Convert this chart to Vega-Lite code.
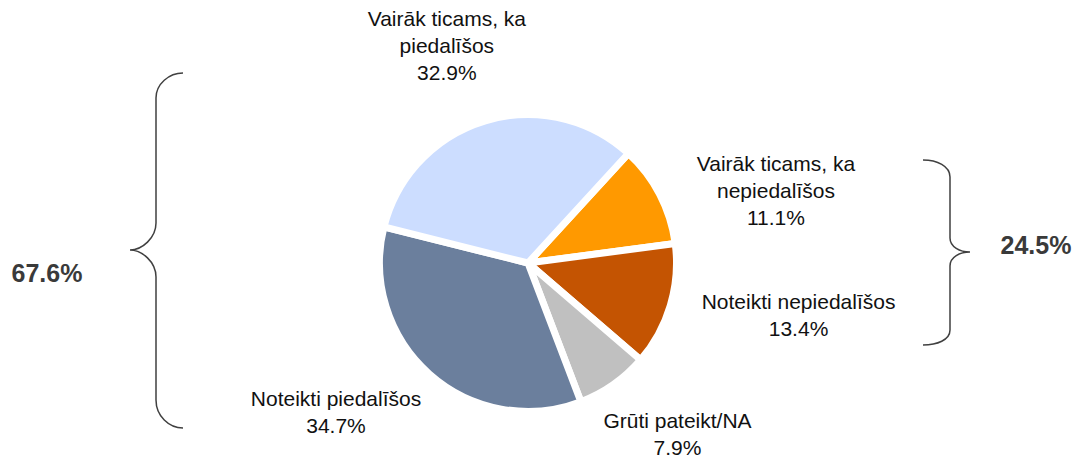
{
  "$schema": "https://vega.github.io/schema/vega-lite/v6.json",
  "width": 1056,
  "height": 394,
  "autosize": {"type": "none"},
  "padding": {"left": 0, "top": 66, "right": 25, "bottom": 0},
  "background": "white",
  "config": {"view": {"stroke": null}, "font": "Liberation Sans"},
  "datasets": {
    "slices": [
      {"ord": 1, "category": "Vairāk ticams, ka nepiedalīšos", "label": "Vairāk ticams, ka\nnepiedalīšos\n11.1%", "value": 11.1},
      {"ord": 2, "category": "Noteikti nepiedalīšos", "label": "Noteikti nepiedalīšos\n13.4%", "value": 13.4},
      {"ord": 3, "category": "Grūti pateikt/NA", "label": "Grūti pateikt/NA\n7.9%", "value": 7.9},
      {"ord": 4, "category": "Noteikti piedalīšos", "label": "Noteikti piedalīšos\n34.7%", "value": 34.7},
      {"ord": 5, "category": "Vairāk ticams, ka piedalīšos", "label": "Vairāk ticams, ka\npiedalīšos\n32.9%", "value": 32.9}
    ],
    "totals": [
      {"side": "left", "total": "67.6%"},
      {"side": "right", "total": "24.5%"}
    ]
  },
  "layer": [
    {
      "data": {"name": "slices"},
      "transform": [
        {"stack": "value", "groupby": [], "sort": [{"field": "ord", "order": "ascending"}], "as": ["v0", "v1"]}
      ],
      "layer": [
        {
          "mark": {"type": "arc", "outerRadius": 148.5, "stroke": "white", "strokeWidth": 7},
          "encoding": {
            "theta": {"field": "v0", "type": "quantitative", "scale": {"domain": [0, 100], "range": [0.74176, 7.02495]}},
            "theta2": {"field": "v1"},
            "color": {
              "field": "category",
              "type": "nominal",
              "scale": {
                "domain": ["Vairāk ticams, ka nepiedalīšos", "Noteikti nepiedalīšos", "Grūti pateikt/NA", "Noteikti piedalīšos", "Vairāk ticams, ka piedalīšos"],
                "range": ["#FF9900", "#C45402", "#C0C0C0", "#6B7F9D", "#CCDDFF"]
              },
              "legend": null
            }
          }
        },
        {
          "transform": [{"filter": "datum.ord == 1"}],
          "mark": {"type": "text", "radius": 258.2, "thetaOffset": 0.5463, "dy": -26, "lineBreak": "\n", "fontSize": 21, "lineHeight": 27, "align": "center", "baseline": "middle", "color": "#111111"},
          "encoding": {"theta": {"field": "v0", "type": "quantitative"}, "text": {"field": "label", "type": "nominal"}}
        },
        {
          "transform": [{"filter": "datum.ord == 2"}],
          "mark": {"type": "text", "radius": 275.5, "thetaOffset": 0.3218, "dy": -12, "lineBreak": "\n", "fontSize": 21, "lineHeight": 27, "align": "center", "baseline": "middle", "color": "#111111"},
          "encoding": {"theta": {"field": "v0", "type": "quantitative"}, "text": {"field": "label", "type": "nominal"}}
        },
        {
          "transform": [{"filter": "datum.ord == 3"}],
          "mark": {"type": "text", "radius": 227.9, "thetaOffset": 0.1449, "dy": -13, "lineBreak": "\n", "fontSize": 21, "lineHeight": 27, "align": "center", "baseline": "middle", "color": "#111111"},
          "encoding": {"theta": {"field": "v0", "type": "quantitative"}, "text": {"field": "label", "type": "nominal"}}
        },
        {
          "transform": [{"filter": "datum.ord == 4"}],
          "mark": {"type": "text", "radius": 243, "thetaOffset": 1.2751, "dy": -12, "lineBreak": "\n", "fontSize": 21, "lineHeight": 27, "align": "center", "baseline": "middle", "color": "#111111"},
          "encoding": {"theta": {"field": "v0", "type": "quantitative"}, "text": {"field": "label", "type": "nominal"}}
        },
        {
          "transform": [{"filter": "datum.ord == 5"}],
          "mark": {"type": "text", "radius": 230.7, "thetaOffset": 0.9659, "dy": -27, "lineBreak": "\n", "fontSize": 21, "lineHeight": 27, "align": "center", "baseline": "middle", "color": "#111111"},
          "encoding": {"theta": {"field": "v0", "type": "quantitative"}, "text": {"field": "label", "type": "nominal"}}
        }
      ]
    },
    {
      "data": {"name": "totals"},
      "encoding": {
        "x": {"field": "side", "type": "nominal", "scale": {"type": "point", "domain": ["left", "right"], "range": [47, 1036], "padding": 0}, "axis": null},
        "y": {"field": "side", "type": "nominal", "scale": {"type": "point", "domain": ["left", "right"], "range": [208, 180], "padding": 0}, "axis": null}
      },
      "layer": [
        {
          "mark": {"type": "point", "filled": false, "color": "#404040", "strokeWidth": 1.5, "opacity": 1, "size": 4},
          "encoding": {
            "shape": {
              "field": "side",
              "type": "nominal",
              "scale": {
                "domain": ["left", "right"],
                "range": [
                  "M 136 -201 C 122 -201 109 -190 109 -176 L 109 -51 C 109 -36 95 -24 83 -24 C 95 -24 109 -12 109 3 L 109 126 C 109 142 122 154 136 154",
                  "M -113 -86 C -99 -86 -86 -80 -86 -69 L -86 -8 C -86 1 -76 6 -66 6 C -76 6 -86 11 -86 20 L -86 84 C -86 94 -99 99 -113 99"
                ]
              },
              "legend": null
            }
          }
        },
        {
          "mark": {"type": "text", "fontSize": 25, "fontWeight": "bold", "color": "#3a3a3a", "align": "center", "baseline": "middle"},
          "encoding": {"text": {"field": "total", "type": "nominal"}}
        }
      ]
    }
  ]
}
